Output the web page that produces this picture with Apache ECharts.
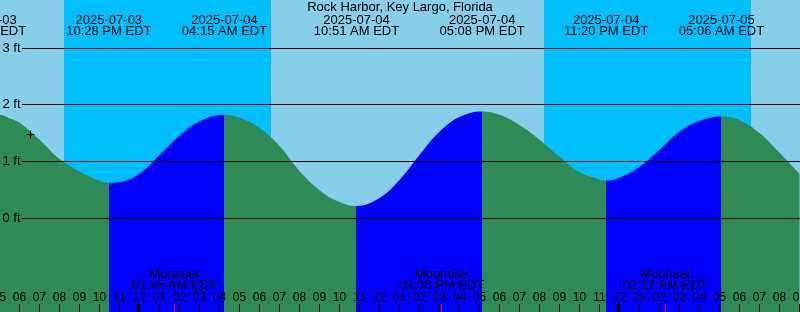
<!DOCTYPE html>
<html><head><meta charset="utf-8">
<script src="https://cdn.jsdelivr.net/npm/echarts@6/dist/echarts.min.js"></script>
<style>html,body{margin:0;padding:0;background:#87CEEB;overflow:hidden}#c{width:800px;height:312px}</style>
</head><body><div id="c"></div>
<script>
// All times are hours counted from 2025-07-03 00:00 EDT
const tideHours = [16.2, 17, 17.5, 18, 19, 20, 21, 22, 22.467, 23, 24, 25, 26, 27, 28.25, 29, 30, 31, 32, 33, 34, 34.85, 36, 37, 38, 39, 40, 41.133, 42, 43, 44, 45, 46, 47, 47.333, 48, 49, 50, 51, 52, 53.1, 54, 55, 56, 57];
const tideFeet  = [1.84, 1.83, 1.77, 1.69, 1.39, 1.05, 0.83, 0.67, 0.63, 0.64, 0.79, 1.12, 1.46, 1.71, 1.83, 1.78, 1.60, 1.28, 0.84, 0.50, 0.29, 0.22, 0.36, 0.68, 1.12, 1.53, 1.79, 1.89, 1.83, 1.65, 1.39, 1.09, 0.82, 0.69, 0.67, 0.72, 0.91, 1.21, 1.53, 1.72, 1.80, 1.74, 1.51, 1.16, 0.79];

const extremeHours = [16.2, 22.467, 28.25, 34.85, 41.133, 47.333, 53.1];
const extremeKinds = ['H', 'L', 'H', 'L', 'H', 'L', 'H'];
const extremeDates = ['2025-07-03', '2025-07-03', '2025-07-04', '2025-07-04', '2025-07-04', '2025-07-04', '2025-07-05'];
const extremeTimes = ['04:12 PM EDT', '10:28 PM EDT', '04:15 AM EDT', '10:51 AM EDT', '05:08 PM EDT', '11:20 PM EDT', '05:06 AM EDT'];

const sunsetHours  = [20.225, 44.225];
const sunriseHours = [30.575, 54.575];

const moonHours = [25.75, 39.1, 50.283];
const moonNames = ['Moonset', 'Moonrise', 'Moonset'];
const moonTimes = ['01:45 AM EDT', '03:06 PM EDT', '02:17 AM EDT'];

const midnightHours = [24, 48];
const levelTicks = [0, 1, 2, 3];
const markHours = [18.55];
const markFeet = [1.48];

const title = 'Rock Harbor, Key Largo, Florida';

const FONT = '"Liberation Sans", Arial, sans-serif';
const DAY = '#87CEEB', NIGHT = '#00BFFF', FLOOD = '#0000FF', EBB = '#2E8B57';

// flood / ebb pieces between extremes
const pieces = [];
pieces.push({ lt: extremeHours[0], color: extremeKinds[0] === 'H' ? FLOOD : EBB });
for (let i = 0; i < extremeHours.length - 1; i++) {
  pieces.push({ gte: extremeHours[i], lt: extremeHours[i + 1], color: extremeKinds[i] === 'L' ? FLOOD : EBB });
}
pieces.push({ gte: extremeHours[extremeHours.length - 1], color: extremeKinds[extremeHours.length - 1] === 'L' ? FLOOD : EBB });

const chart = echarts.init(document.getElementById('c'), null, { renderer: 'canvas' });

function txt(text, x, y, align, size) {
  return { type: 'text', style: { text: text, x: x, y: y, fill: '#000', font: (size || 13) + 'px ' + FONT, align: align || 'center', verticalAlign: 'middle' } };
}

chart.setOption({
  animation: false,
  backgroundColor: DAY,
  title: { text: title, left: 'center', top: 1, padding: 0, textStyle: { fontSize: 13, fontWeight: 'normal', color: '#000', fontFamily: FONT, lineHeight: 13 } },
  grid: { left: -0.5, top: 0, width: 800, height: 312, containLabel: false, outerBoundsMode: 'none' },
  xAxis: {
    type: 'value', min: 17, max: 57, interval: 1, z: 5,
    axisLine: { show: false, onZero: false }, splitLine: { show: false },
    axisTick: { show: true, inside: true, length: 8, lineStyle: { color: '#000', width: 1 } },
    axisLabel: {
      inside: true, margin: 8, showMinLabel: true, showMaxLabel: true, color: '#000', fontSize: 12, lineHeight: 12, fontFamily: FONT,
      formatter: function (v) { const h = Math.round(v) % 24; let h12 = h % 12; if (h12 === 0) h12 = 12; return String(h12).padStart(2, '0'); }
    }
  },
  yAxis: { type: 'value', min: -1.65, max: 3.85585, show: false, splitLine: { show: false } },
  visualMap: { show: false, type: 'piecewise', dimension: 0, seriesIndex: 1, pieces: pieces },
  series: [
    { // night bands
      type: 'custom', z: 1, silent: true,
      data: sunsetHours.map((s, i) => [s, sunriseHours[i]]),
      renderItem: function (params, api) {
        const a = api.coord([api.value(0), 0]), b = api.coord([api.value(1), 0]);
        const cs = params.coordSys;
        const x0 = Math.round(a[0]), x1 = Math.round(b[0]);
        return { type: 'rect', shape: { x: x0, y: cs.y, width: x1 - x0, height: cs.height }, style: { fill: NIGHT } };
      }
    },
    { // tide water
      type: 'line', z: 2, smooth: 0.4, symbol: 'none', showSymbol: false, silent: true,
      data: tideHours.map((h, i) => [h, tideFeet[i]]),
      lineStyle: { width: 0 },
      areaStyle: { opacity: 1, origin: 'start' }
    },
    { // level lines and labels
      type: 'custom', z: 3, silent: true,
      data: levelTicks.map(v => [17, v]),
      renderItem: function (params, api) {
        const v = api.value(1);
        const p = api.coord([17, v]);
        const y = Math.floor(p[1] - 0.4) + 0.5;
        return { type: 'group', children: [
          { type: 'line', shape: { x1: 22, y1: y, x2: 800, y2: y }, style: { stroke: '#000', lineWidth: 1 } },
          txt(v + ' ft', 2.5, y + 0.4, 'left')
        ] };
      }
    },
    { // tide extreme labels
      type: 'custom', z: 3, silent: true,
      data: extremeHours.map(h => [h, 0]),
      renderItem: function (params, api) {
        const i = params.dataIndex;
        const x = api.coord([api.value(0), 0])[0];
        return { type: 'group', children: [
          txt(extremeDates[i], x, 20.1),
          txt(extremeTimes[i], x, 31.6)
        ] };
      }
    },
    { // moon events: labels and red ticks
      type: 'custom', z: 3, silent: true,
      data: moonHours.map(h => [h, 0]),
      renderItem: function (params, api) {
        const i = params.dataIndex;
        const cs = params.coordSys;
        const x = api.coord([api.value(0), 0])[0];
        const bottom = cs.y + cs.height;
        return { type: 'group', children: [
          txt(moonNames[i], x, 274.4),
          txt(moonTimes[i], x, 285.9),
          { type: 'rect', shape: { x: Math.floor(x), y: bottom - 8, width: 1, height: 8 }, style: { fill: '#FF0000' } }
        ] };
      }
    },
    { // midnight thick ticks
      type: 'custom', z: 6, silent: true,
      data: midnightHours.map(h => [h, 0]),
      renderItem: function (params, api) {
        const cs = params.coordSys;
        const x = api.coord([api.value(0), 0])[0];
        const bottom = cs.y + cs.height;
        return { type: 'rect', shape: { x: Math.floor(x) - 2, y: bottom - 8, width: 3, height: 8 }, style: { fill: '#000' } };
      }
    },
    { // + mark
      type: 'custom', z: 6, silent: true,
      data: markHours.map((h, i) => [h, markFeet[i]]),
      renderItem: function (params, api) {
        const p = api.coord([api.value(0), api.value(1)]);
        const cx = Math.floor(p[0]) + 0.5, cy = Math.floor(p[1]) + 0.5;
        return { type: 'group', children: [
          { type: 'line', shape: { x1: cx - 4, y1: cy, x2: cx + 4, y2: cy }, style: { stroke: '#000', lineWidth: 1 } },
          { type: 'line', shape: { x1: cx, y1: cy - 4, x2: cx, y2: cy + 4 }, style: { stroke: '#000', lineWidth: 1 } }
        ] };
      }
    }
  ]
});
</script>
</body></html>
